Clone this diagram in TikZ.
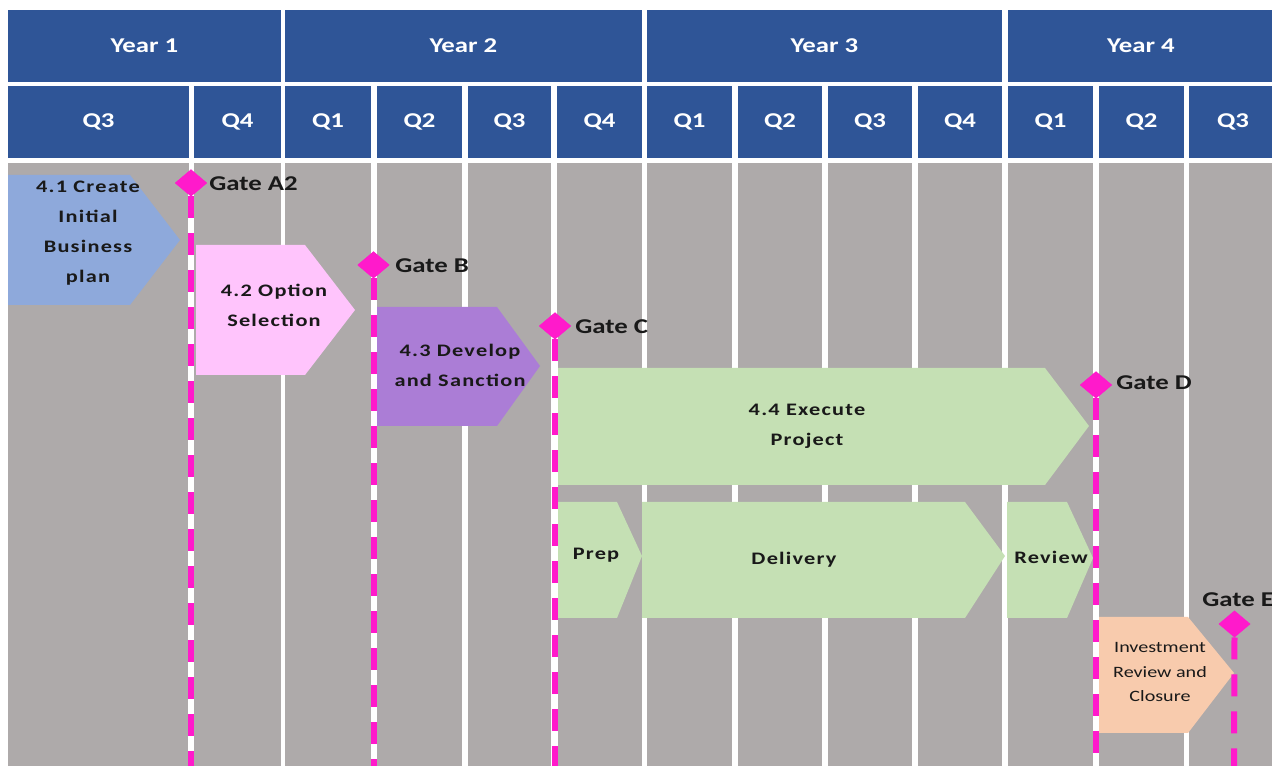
\documentclass[tikz,border=0pt]{standalone}
\usepackage{fontspec}
\setmainfont{Carlito}[FakeStretch=1.27]
\newfontfamily\phasefont{Carlito}[FakeStretch=1.27,LetterSpace=7]
\usetikzlibrary{shapes.geometric}
\definecolor{hdrblue}{HTML}{2F5597}
\definecolor{bodygray}{HTML}{AEAAAA}
\definecolor{gatepink}{HTML}{FF1ACB}
\definecolor{planblue}{HTML}{8EA9DB}
\definecolor{optpink}{HTML}{FFC4FC}
\definecolor{devpurple}{HTML}{AB7DD6}
\definecolor{execgreen}{HTML}{C5E0B4}
\definecolor{closepeach}{HTML}{F8CBAD}
\begin{document}
\begin{tikzpicture}[x=0.02cm, y=-0.02cm,
  hdr/.style={fill=hdrblue, text=white, font=\bfseries\fontsize{12}{14}\selectfont, inner sep=0pt, outer sep=0pt, minimum height=1.44cm},
  phase/.style={font=\phasefont\bfseries\fontsize{10}{17}\selectfont, align=center, inner sep=0pt, text=black!90},
  gate/.style={diamond, fill=gatepink, inner sep=0pt, outer sep=0pt, minimum width=0.64cm, minimum height=0.54cm},
  gatelabel/.style={font=\bfseries\fontsize{12}{14}\selectfont, inner sep=0pt, anchor=west, text=black!90},
  gateback/.style={white, line width=0.12cm},
  gateline/.style={gatepink, line width=0.12cm, dash pattern=on 0.44cm off 0.3cm}]
  \useasboundingbox (0,0) rectangle (1272,766);
  \clip (0,0) rectangle (1272,766);
  % Year row
  \foreach \l/\r/\yr in {8/281/1, 285/642/2, 647/1002/3, 1008/1274/4}
    \node[hdr, minimum width={(\r-\l)*0.02cm}] (year\yr) at ({(\l+\r)/2},46) {Year \yr};
  % Quarter row and grey columns
  \foreach \l/\r/\q [count=\i] in {8/189/3, 194/281/4, 285/371/1, 377/462/2, 468/551/3, 557/642/4, 647/732/1, 738/822/2, 828/912/3, 918/1002/4, 1008/1093/1, 1099/1184/2, 1189/1277/3}{
    \node[hdr, minimum width={(\r-\l)*0.02cm}] (qtr\i) at ({(\l+\r)/2},122) {Q\q};
    \fill[bodygray] (\l,163) rectangle (\r,770);
  }
  % Phases
  \fill[planblue] (8,175) -- (130,175) -- (180,240) -- (130,305) -- (8,305) -- cycle;
  \node[phase] (plan) at (88,233) {4.1 Create\\Initial\\Business\\plan};
  \fill[optpink] (196,245) -- (305,245) -- (355,310) -- (305,375) -- (196,375) -- cycle;
  \node[phase] (option) at (274,305) {4.2 Option\\Selection};
  \fill[devpurple] (377,307) -- (497,307) -- (540,366) -- (497,426) -- (377,426) -- cycle;
  \node[phase] (develop) at (460,365) {4.3 Develop\\and Sanction};
  \fill[execgreen] (558,368) -- (1045,368) -- (1089,426) -- (1045,485) -- (558,485) -- cycle;
  \node[phase] (execute) at (807,426) {4.4 Execute\\Project};
  \fill[execgreen] (558,502) -- (617,502) -- (642,556) -- (617,618) -- (558,618) -- cycle;
  \node[phase] (prep) at (596,555) {Prep};
  \fill[execgreen] (642,502) -- (965,502) -- (1005,556) -- (965,618) -- (642,618) -- cycle;
  \node[phase] (delivery) at (794,560) {Delivery};
  \fill[execgreen] (1007,502) -- (1067,502) -- (1093,558) -- (1067,618) -- (1007,618) -- cycle;
  \node[phase] (review) at (1051,557) {Review};
  \fill[closepeach] (1097,617) -- (1188,617) -- (1234,673) -- (1188,733) -- (1097,733) -- cycle;
  \node[phase, font=\fontsize{9}{13.9}\selectfont] (closure) at (1160,672) {Investment\\Review and\\Closure};
  % Gates
  \foreach \n/\x/\y in {A2/191/183, B/373.5/265, C/555/326, D/1096/385}{
    \coordinate (end\n) at (\x,770);
    \node[gate] (gate\n) at (\x,\y) {};
    \draw[gateback] (gate\n.center) -- (end\n);
    \draw[gateline] (gate\n.south) -- (end\n);
    \node[gate] at (gate\n) {};
  }
  \coordinate (endE) at (1234,770);
  \node[gate] (gateE) at (1234.5,624) {};
  \draw[gateline] (gateE.south) -- (endE);
  \node[gatelabel] (labA2) at (209,184) {Gate A2};
  \node[gatelabel] (labB) at (395,266) {Gate B};
  \node[gatelabel] (labC) at (575,327) {Gate C};
  \node[gatelabel] (labD) at (1116,383) {Gate D};
  \node[gatelabel] (labE) at (1202,600) {Gate E};
\end{tikzpicture}
\end{document}
